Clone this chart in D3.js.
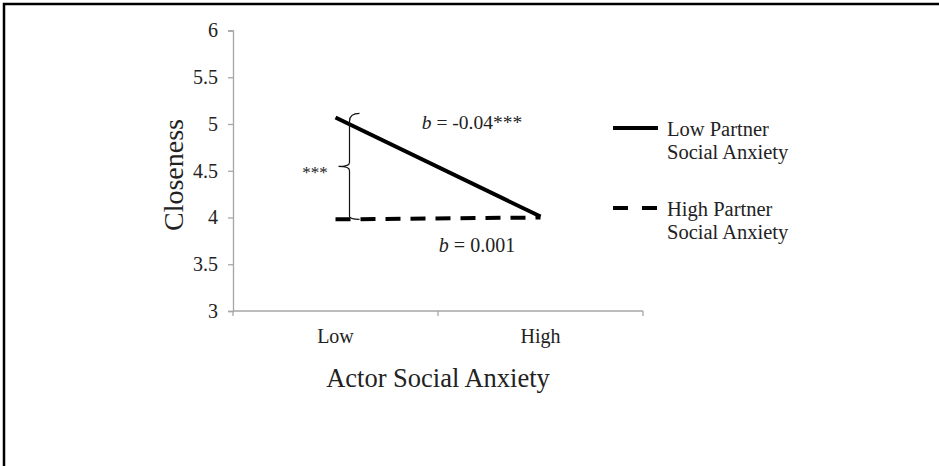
<!DOCTYPE html>
<html>
<head>
<meta charset="utf-8">
<script src="https://cdn.jsdelivr.net/npm/d3@7"></script>
<style>
  body { margin: 0; background: #fff; }
  text { font-family: "Liberation Serif", "DejaVu Serif", serif; fill: #222; }
</style>
</head>
<body>
<div id="chart"></div>
<script>
// data
var categories = ['Low', 'High'];
var lowPartner = [5.07, 4.01];
var highPartner = [3.98, 4.0];
var yTicks = [3, 3.5, 4, 4.5, 5, 5.5, 6];
var seriesNames = [['Low Partner', 'Social Anxiety'], ['High Partner', 'Social Anxiety']];

var width = 939, height = 466;

var svg = d3.select('#chart')
    .append('svg')
    .attr('width', width)
    .attr('height', height);

// frame (only top + left visible)
svg.append('path')
    .attr('d', 'M4,' + height + ' V4 H' + width)
    .attr('fill', 'none')
    .attr('stroke', '#000')
    .attr('stroke-width', 2.5);

var x = d3.scaleBand().domain(categories).range([233, 643]);
var y = d3.scaleLinear().domain([3, 6]).range([311, 30.5]);

// y axis
var yAxis = svg.append('g')
    .attr('transform', 'translate(233,0)')
    .call(d3.axisLeft(y).tickValues(yTicks).tickSize(5).tickPadding(10)
        .tickFormat(function(d){ return d; }));
yAxis.selectAll('path, line').attr('stroke', '#a6a6a6').attr('stroke-width', 1.3);
yAxis.selectAll('text').style('font-size', '20px').attr('fill', '#222');

// x axis with tick marks at band edges
var xg = svg.append('g').attr('transform', 'translate(0,311)');
xg.append('line')
    .attr('x1', 233).attr('x2', 643)
    .attr('stroke', '#a6a6a6').attr('stroke-width', 1.3);
xg.selectAll('.edge')
    .data(categories.concat(['end']))
    .enter()
    .append('line')
    .attr('x1', function(d, i){ return i < categories.length ? x(d) : x.range()[1]; })
    .attr('x2', function(d, i){ return i < categories.length ? x(d) : x.range()[1]; })
    .attr('y1', 0).attr('y2', 5)
    .attr('stroke', '#a6a6a6').attr('stroke-width', 1.3);
xg.selectAll('.lbl')
    .data(categories)
    .enter()
    .append('text')
    .attr('x', function(d){ return x(d) + x.bandwidth() / 2; })
    .attr('y', 32)
    .attr('text-anchor', 'middle')
    .style('font-size', '20px')
    .text(function(d){ return d; });

// axis titles
svg.append('text')
    .attr('transform', 'translate(183,175) rotate(-90)')
    .attr('text-anchor', 'middle')
    .style('font-size', '28px')
    .text('Closeness');
svg.append('text')
    .attr('x', 438).attr('y', 387)
    .attr('text-anchor', 'middle')
    .style('font-size', '26.5px')
    .text('Actor Social Anxiety');

// lines
var line = d3.line()
    .x(function(d, i){ return x(categories[i]) + x.bandwidth() / 2; })
    .y(function(d){ return y(d); });

svg.append('path')
    .datum(lowPartner)
    .attr('d', line)
    .attr('fill', 'none')
    .attr('stroke', '#000')
    .attr('stroke-width', 4);

svg.append('path')
    .datum(highPartner)
    .attr('d', line)
    .attr('fill', 'none')
    .attr('stroke', '#000')
    .attr('stroke-width', 4)
    .attr('stroke-dasharray', '15,10');

// bracket between the two lines at Low
var bx = x('Low') + x.bandwidth() / 2 + 14;
var yTop = y(lowPartner[0]) - 4, yBot = y(highPartner[0]), yMid = (yTop + yBot) / 2;
svg.append('path')
    .attr('d', 'M' + (bx + 10) + ',' + yTop + ' Q' + bx + ',' + yTop + ' ' + bx + ',' + (yTop + 8) +
        ' V' + (yMid - 4) + ' Q' + bx + ',' + yMid + ' ' + (bx - 11) + ',' + yMid +
        ' Q' + bx + ',' + yMid + ' ' + bx + ',' + (yMid + 4) +
        ' V' + (yBot - 3) + ' Q' + bx + ',' + yBot + ' ' + (bx + 10) + ',' + yBot)
    .attr('fill', 'none')
    .attr('stroke', '#111')
    .attr('stroke-width', 1.2);

svg.append('text')
    .attr('x', 315).attr('y', yMid + 12)
    .attr('text-anchor', 'middle')
    .style('font-size', '17px')
    .text('***');

// slope annotations
var t1 = svg.append('text').attr('x', 472).attr('y', 129).attr('text-anchor', 'middle').style('font-size', '19.5px');
t1.append('tspan').style('font-style', 'italic').text('b');
t1.append('tspan').text(' = -0.04***');

var t2 = svg.append('text').attr('x', 477).attr('y', 252).attr('text-anchor', 'middle').style('font-size', '20px');
t2.append('tspan').style('font-style', 'italic').text('b');
t2.append('tspan').text(' = 0.001');

// legend
var legend = svg.selectAll('.legend')
    .data(seriesNames)
    .enter()
    .append('g')
    .attr('transform', function(d, i){ return 'translate(613,' + (128 + i * 80) + ')'; });

legend.append('line')
    .attr('x1', 0).attr('x2', 45)
    .attr('stroke', '#000')
    .attr('stroke-width', 4)
    .attr('stroke-dasharray', function(d, i){ return i === 0 ? null : '15,14'; });

legend.append('text')
    .attr('x', 54).attr('y', 8)
    .style('font-size', '20.5px')
    .text(function(d){ return d[0]; });
legend.append('text')
    .attr('x', 54).attr('y', 31)
    .style('font-size', '20.5px')
    .text(function(d){ return d[1]; });
</script>
</body>
</html>
